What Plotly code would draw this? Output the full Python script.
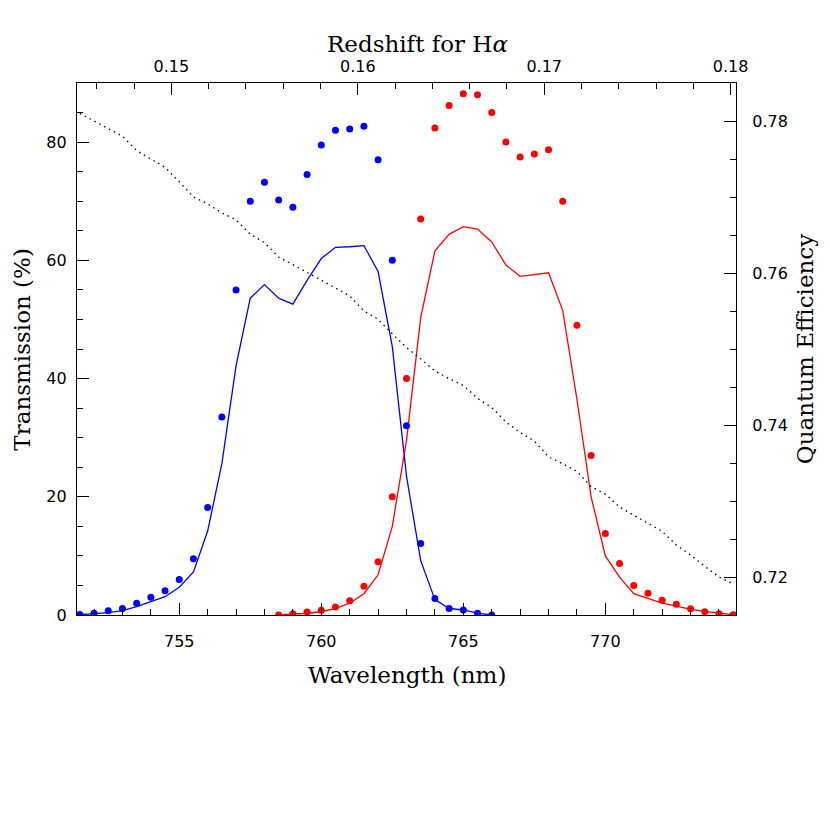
import plotly.graph_objects as go

# ---------------- data ----------------
HALPHA = 656.28  # nm

wl_blue = [751.5, 752.0, 752.5, 753.0, 753.5, 754.0, 754.5, 755.0, 755.5, 756.0,
           756.5, 757.0, 757.5, 758.0, 758.5, 759.0, 759.5, 760.0, 760.5, 761.0,
           761.5, 762.0, 762.5, 763.0, 763.5, 764.0, 764.5, 765.0, 765.5, 766.0]
blue_measured = [0.1, 0.3, 0.7, 1.1, 2.0, 3.0, 4.1, 6.0, 9.5, 18.2,
                 33.5, 55.0, 70.0, 73.2, 70.2, 69.0, 74.5, 79.5, 82.0, 82.2,
                 82.7, 77.0, 60.0, 32.0, 12.1, 2.8, 1.1, 0.85, 0.3, 0.0]
blue_model = [0.05, 0.2, 0.4, 0.75, 1.4, 2.25, 3.1, 4.7, 7.3, 14.2,
              25.6, 42.2, 53.6, 55.9, 53.6, 52.6, 56.6, 60.3, 62.2, 62.3,
              62.5, 58.1, 45.4, 23.5, 9.2, 2.6, 1.1, 0.85, 0.3, 0.0]

wl_red = [758.5, 759.0, 759.5, 760.0, 760.5, 761.0, 761.5, 762.0, 762.5, 763.0,
          763.5, 764.0, 764.5, 765.0, 765.5, 766.0, 766.5, 767.0, 767.5, 768.0,
          768.5, 769.0, 769.5, 770.0, 770.5, 771.0, 771.5, 772.0, 772.5, 773.0,
          773.5, 774.0, 774.5]
red_measured = [0.0, 0.2, 0.5, 0.8, 1.35, 2.4, 4.85, 9.0, 20.0, 40.0,
                67.0, 82.4, 86.2, 88.2, 88.0, 85.0, 80.0, 77.5, 78.0, 78.7,
                70.0, 49.0, 27.0, 13.8, 8.7, 5.0, 3.7, 2.5, 1.8, 1.07,
                0.56, 0.22, 0.05]
red_model = [0.0, 0.1, 0.3, 0.55, 1.1, 2.0, 3.6, 6.8, 15.0, 29.5,
             50.3, 61.6, 64.4, 65.7, 65.3, 63.1, 59.2, 57.3, 57.6, 57.9,
             51.5, 36.5, 20.0, 10.0, 6.4, 3.6, 2.8, 2.0, 1.5, 0.95,
             0.6, 0.3, 0.05]

wl_qe = [751.5, 752.0, 752.5, 753.0, 753.5, 754.0, 754.5, 755.0, 755.5, 756.0,
         756.5, 757.0, 757.5, 758.0, 758.5, 759.0, 759.5, 760.0, 760.5, 761.0,
         761.5, 762.0, 762.5, 763.0, 763.5, 764.0, 764.5, 765.0, 765.5, 766.0,
         766.5, 767.0, 767.5, 768.0, 768.5, 769.0, 769.5, 770.0, 770.5, 771.0,
         771.5, 772.0, 772.5, 773.0, 773.5, 774.0, 774.5]
qe = [0.7810, 0.7800, 0.7790, 0.7780, 0.7761, 0.7750, 0.7739, 0.7720, 0.7700, 0.7691,
      0.7679, 0.7670, 0.7651, 0.7640, 0.7621, 0.7611, 0.7601, 0.7591, 0.7581, 0.7570,
      0.7550, 0.7539, 0.7520, 0.7502, 0.7487, 0.7471, 0.7461, 0.7452, 0.7435, 0.7423,
      0.7404, 0.7390, 0.7379, 0.7358, 0.7349, 0.7339, 0.7319, 0.7309, 0.7292, 0.7281,
      0.7271, 0.7260, 0.7242, 0.7229, 0.7214, 0.7200, 0.7191]

wl_range = [751.4, 774.6]
trans_range = [0, 90]
qe_range = [0.715, 0.785]
z_range = [wl_range[0] / HALPHA - 1, wl_range[1] / HALPHA - 1]

# ---------------- figure ----------------
BLUE = "#0000ff"
RED = "#ff0000"
TICKFONT = dict(family="DejaVu Sans", size=16, color="black")
TITLEFONT = dict(family="DejaVu Serif", size=23, color="black")

fig = go.Figure()

fig.add_trace(go.Scatter(x=wl_qe, y=qe, mode="lines", xaxis="x", yaxis="y2",
                         line=dict(color="black", width=1.3, dash="1.5px,4px"),
                         showlegend=False, hoverinfo="skip"))
fig.add_trace(go.Scatter(x=wl_blue, y=blue_model, mode="lines",
                         line=dict(color=BLUE, width=1.3), showlegend=False))
fig.add_trace(go.Scatter(x=wl_red, y=red_model, mode="lines",
                         line=dict(color=RED, width=1.3), showlegend=False))
fig.add_trace(go.Scatter(x=wl_blue, y=blue_measured, mode="markers",
                         marker=dict(color=BLUE, size=7, line=dict(width=0)),
                         showlegend=False))
fig.add_trace(go.Scatter(x=wl_red, y=red_measured, mode="markers",
                         marker=dict(color=RED, size=7, line=dict(width=0)),
                         showlegend=False))
# empty trace so the redshift axis is drawn
fig.add_trace(go.Scatter(x=[], y=[], xaxis="x2", yaxis="y", showlegend=False,
                         hoverinfo="skip"))

axis_common = dict(showline=True, linecolor="black", linewidth=1.3,
                   ticks="inside", ticklen=12, tickwidth=1.2, tickcolor="black",
                   showgrid=False, zeroline=False, tickfont=TICKFONT)
minor_common = dict(ticks="inside", ticklen=6, tickwidth=1.2, tickcolor="black",
                    showgrid=False)

fig.update_layout(
    width=822, height=822, autosize=False,
    margin=dict(l=69, r=94, t=75, b=215),
    paper_bgcolor="white", plot_bgcolor="white",
    xaxis=dict(range=wl_range, tick0=755, dtick=5, mirror=True,
               minor=dict(dtick=1, **minor_common), ticklabelstandoff=12,
               **axis_common),
    xaxis2=dict(range=z_range, overlaying="x", side="top", anchor="y",
                tick0=0, dtick=0.01, tickformat=".2f",
                minor=dict(dtick=0.002, **minor_common), ticklabelstandoff=3,
                **axis_common),
    yaxis=dict(range=trans_range, tick0=0, dtick=20, mirror=True,
               minor=dict(dtick=5, **minor_common), ticklabelstandoff=6,
               **axis_common),
    yaxis2=dict(range=qe_range, overlaying="y", side="right", anchor="x",
                tick0=0.72, dtick=0.02, tickformat=".2f",
                minor=dict(dtick=0.005, **minor_common), ticklabelstandoff=12,
                **axis_common),
    annotations=[
        dict(text="Wavelength (nm)", xref="paper", yref="paper",
             x=0.5, y=-0.113, xanchor="center", yanchor="middle",
             showarrow=False, font=TITLEFONT),
        dict(text="Redshift for H<i>α</i>", xref="paper", yref="paper",
             x=0.516, y=1.074, xanchor="center", yanchor="middle",
             showarrow=False, font=TITLEFONT),
        dict(text="Transmission (%)", xref="paper", yref="paper",
             x=-0.084, y=0.5, xanchor="center", yanchor="middle",
             textangle=-90, showarrow=False, font=TITLEFONT),
        dict(text="Quantum Efficiency", xref="paper", yref="paper",
             x=1.105, y=0.5, xanchor="center", yanchor="middle",
             textangle=-90, showarrow=False, font=TITLEFONT),
    ],
)

fig.write_html("out.html")
